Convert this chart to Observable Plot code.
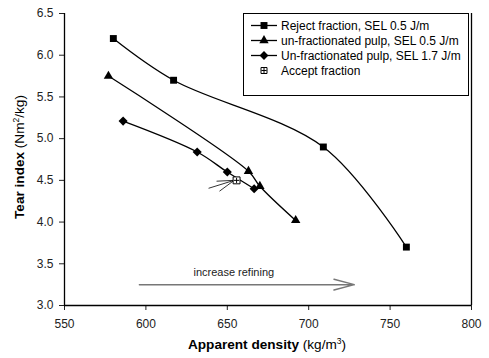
<!DOCTYPE html>
<html>
<head>
<meta charset="utf-8">
<script src="https://cdn.jsdelivr.net/npm/d3@7"></script>
<script src="https://cdn.jsdelivr.net/npm/@observablehq/plot@0.6"></script>
<style>
  html, body { margin: 0; padding: 0; background: #fff; }
  #chart svg { display: block; }
</style>
</head>
<body>
<div id="chart"></div>
<script>
// ---- Data ----
const rejectX = [580, 617, 709, 760];
const rejectY = [6.2, 5.7, 4.9, 3.7];
const unfrac05X = [577, 663, 670, 692];
const unfrac05Y = [5.75, 4.61, 4.43, 4.02];
const unfrac17X = [586, 631.5, 650, 666.5];
const unfrac17Y = [5.21, 4.84, 4.6, 4.4];
const acceptX = [655.7];
const acceptY = [4.5];
const seriesNames = [
  "Reject fraction, SEL 0.5 J/m",
  "un-fractionated pulp, SEL 0.5 J/m",
  "Un-fractionated pulp, SEL 1.7 J/m",
  "Accept fraction"
];
const xTicks = [550, 600, 650, 700, 750, 800];
const yTicks = [3.0, 3.5, 4.0, 4.5, 5.0, 5.5, 6.0, 6.5];
// annotation: "increase refining" arrow
const refineArrow = [{x1: 596, x2: 728, y: 3.25}];
const refineLabel = [{x: 654, y: 3.39, text: "increase refining"}];
// small pointer lines toward the accept fraction point
const pointerStartX = [638.5, 643.4, 645.2];
const pointerStartY = [4.405, 4.49, 4.37];

const toPts = (xs, ys) => xs.map((x, i) => ({x, y: ys[i]}));
const reject = toPts(rejectX, rejectY);
const u05 = toPts(unfrac05X, unfrac05Y);
const u17 = toPts(unfrac17X, unfrac17Y);
const accept = toPts(acceptX, acceptY);
const pointers = pointerStartX.map((x, i) => ({x1: x, y1: pointerStartY[i], x2: acceptX[0] - 1.5, y2: acceptY[0]}));

const W = 489, H = 358;
const font = "'Liberation Sans', Arial, sans-serif";

const chart = Plot.plot({
  width: W, height: H,
  marginLeft: 64, marginRight: 18, marginTop: 13, marginBottom: 53,
  style: {fontFamily: font, fontSize: "12px", color: "#222", background: "#fff"},
  x: {domain: [550, 800], ticks: xTicks, tickSize: 5, tickPadding: 9, label: null},
  y: {domain: [3.0, 6.5], ticks: yTicks, tickSize: 5, tickPadding: 6, tickFormat: d3.format(".1f"), label: null},
  marks: [
    Plot.ruleX([550, 800], {stroke: "#000", strokeWidth: 1.3}),
    Plot.ruleY([3.0], {stroke: "#000", strokeWidth: 1.3}),
    Plot.arrow(refineArrow, {x1: "x1", x2: "x2", y1: "y", y2: "y", stroke: "#777", strokeWidth: 1.5, headAngle: 30, headLength: 21, bend: 0}),
    Plot.text(refineLabel, {x: "x", y: "y", text: "text", fontSize: 11, fill: "#222"}),
    Plot.link(pointers, {x1: "x1", y1: "y1", x2: "x2", y2: "y2", stroke: "#000", strokeWidth: 0.8}),
    Plot.line(reject, {x: "x", y: "y", curve: "catmull-rom", stroke: "#000", strokeWidth: 1.3}),
    Plot.line(u05, {x: "x", y: "y", curve: "catmull-rom", stroke: "#000", strokeWidth: 1.3}),
    Plot.line(u17, {x: "x", y: "y", curve: "catmull-rom", stroke: "#000", strokeWidth: 1.3}),
    Plot.dot(reject, {x: "x", y: "y", symbol: "square", r: 3.9, fill: "#000", stroke: null}),
    Plot.dot(u05, {x: "x", y: "y", symbol: "triangle", r: 3.5, fill: "#000", stroke: null}),
    Plot.dot(u17, {x: "x", y: "y", symbol: "diamond2", r: 4.1, fill: "#000", stroke: null}),
    Plot.dot(accept, {x: "x", y: "y", symbol: "square", r: 3.9, fill: "#fff", stroke: "#000", strokeWidth: 1}),
    Plot.dot(accept, {x: "x", y: "y", symbol: "plus", r: 1.8, fill: "none", stroke: "#000", strokeWidth: 1})
  ]
});

document.getElementById("chart").appendChild(chart);

// ---- Axis titles & legend appended to the Plot SVG ----
const svg = d3.select(chart);

const xt = svg.append("text")
  .attr("x", 267).attr("y", 349)
  .attr("text-anchor", "middle")
  .attr("font-family", font).attr("font-size", 13.6).attr("fill", "#000");
xt.append("tspan").attr("font-weight", "bold").text("Apparent density ");
xt.append("tspan").text("(kg/m");
xt.append("tspan").attr("font-size", 8.5).attr("dy", -5).text("3");
xt.append("tspan").attr("dy", 5).text(")");

const yt = svg.append("text")
  .attr("transform", "translate(24,157) rotate(-90)")
  .attr("text-anchor", "middle")
  .attr("font-family", font).attr("font-size", 13.6).attr("fill", "#000");
yt.append("tspan").attr("font-weight", "bold").text("Tear index ");
yt.append("tspan").text("(Nm");
yt.append("tspan").attr("font-size", 8.5).attr("dy", -5).text("2");
yt.append("tspan").attr("dy", 5).text("/kg)");

// legend
const lg = svg.append("g").attr("font-family", font).attr("font-size", 12).attr("text-anchor", "start");
lg.append("rect").attr("x", 243.5).attr("y", 13.5).attr("width", 225).attr("height", 82)
  .attr("fill", "#fff").attr("stroke", "#000").attr("stroke-width", 1);
const legendSymbols = [d3.symbolSquare, d3.symbolTriangle, d3.symbolDiamond2, d3.symbolSquare];
const legendSizes = [48, 38, 50, 48];
const rowY = [25.5, 40.5, 55.5, 70.5];
seriesNames.forEach((name, i) => {
  const y = rowY[i];
  if (i < 3) {
    lg.append("line").attr("x1", 251).attr("x2", 277).attr("y1", y).attr("y2", y)
      .attr("stroke", "#000").attr("stroke-width", 1.3);
    lg.append("path").attr("d", d3.symbol(legendSymbols[i], legendSizes[i])())
      .attr("transform", `translate(264,${y})`).attr("fill", "#000");
  } else {
    lg.append("path").attr("d", d3.symbol(d3.symbolSquare, 36)())
      .attr("transform", `translate(264,${y})`).attr("fill", "#fff").attr("stroke", "#000");
    lg.append("path").attr("d", d3.symbol(d3.symbolPlus, 10)())
      .attr("transform", `translate(264,${y})`).attr("fill", "none").attr("stroke", "#000");
  }
  lg.append("text").attr("x", 281).attr("y", y).attr("dy", "0.35em").attr("fill", "#000").text(name);
});
</script>
</body>
</html>
